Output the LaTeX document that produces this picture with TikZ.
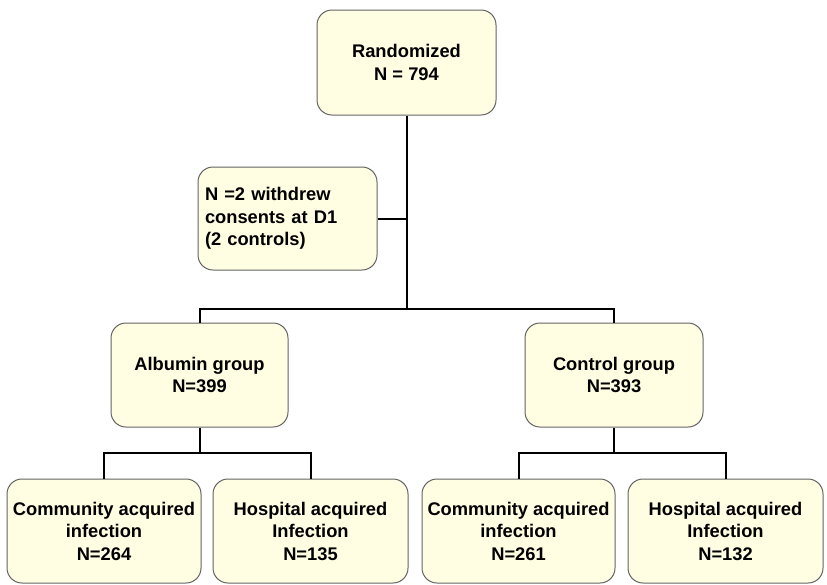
\documentclass[tikz,border=0pt]{standalone}
\usepackage{fontspec}
\setmainfont{Liberation Sans}
\definecolor{boxfill}{RGB}{255,253,226}
\definecolor{boxline}{RGB}{100,100,100}
\tikzset{
  box/.style={draw=boxline, line width=1pt, fill=boxfill, rounded corners=15pt,
    align=center, font=\fontsize{18.3}{22.5}\selectfont\bfseries, inner sep=0pt},
  conn/.style={draw=black, line width=2pt}
}
\begin{document}
\begin{tikzpicture}[x=1pt,y=-1pt]
\useasboundingbox (0,0) rectangle (827,584);
\node[box, minimum width=179pt, minimum height=105pt] (rand) at (406.5,62.5) {Randomized\\N = 794};
\node[box, minimum width=179pt, minimum height=103pt, align=left, text width=165pt, inner xsep=7pt] (wd) at (287.5,218.5) {N =2 withdrew\\consents at D1\\(2 controls)};
\node[box, minimum width=177pt, minimum height=104pt] (alb) at (199.5,375) {Albumin group\\N=399};
\node[box, minimum width=178pt, minimum height=104pt] (ctl) at (614,375) {Control group\\N=393};
\node[box, minimum width=194pt, minimum height=104pt] (b1) at (104,531) {Community acquired\\infection\\N=264};
\node[box, minimum width=195pt, minimum height=104pt] (b2) at (310.5,531) {Hospital acquired\\Infection\\N=135};
\node[box, minimum width=193pt, minimum height=104pt] (b3) at (518.5,531) {Community acquired\\infection\\N=261};
\node[box, minimum width=195pt, minimum height=104pt] (b4) at (725.5,531) {Hospital acquired\\Infection\\N=132};
\coordinate (j1) at (406.5,309);
\coordinate (ja) at (199.5,453);
\coordinate (jc) at (614,453);
\draw[conn] (rand.south) -- (j1);
\draw[conn] (wd.east) -- (wd.east -| j1);
\draw[conn] (alb.north) |- (j1) -| (ctl.north);
\draw[conn] (alb.south) -- (ja);
\draw[conn] (b1.north) |- (ja) -| (b2.north);
\draw[conn] (ctl.south) -- (jc);
\draw[conn] (b3.north) |- (jc) -| (b4.north);
\end{tikzpicture}
\end{document}
